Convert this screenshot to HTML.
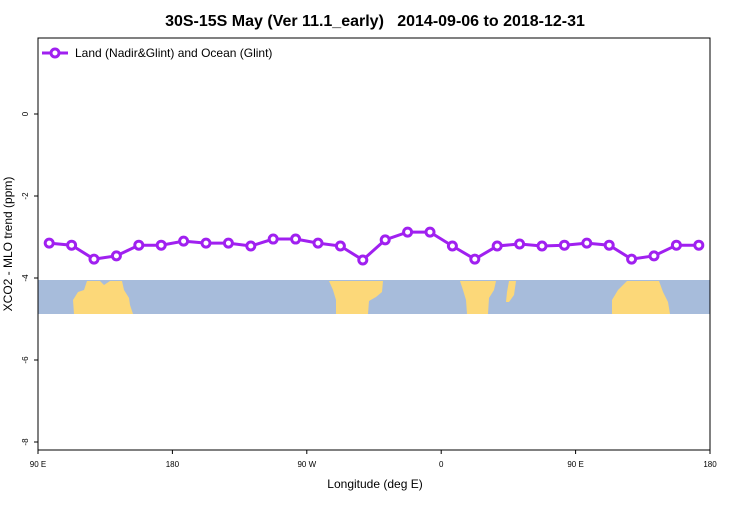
<!DOCTYPE html>
<html><head><meta charset="utf-8"><style>
body{margin:0;background:#fff;font-family:"Liberation Sans",sans-serif}
</style></head><body>
<svg id="c" width="750" height="500" xmlns="http://www.w3.org/2000/svg">
<text x="375" y="26" text-anchor="middle" font-size="16" font-weight="bold" style="white-space:pre">30S-15S May (Ver 11.1_early)   2014-09-06 to 2018-12-31</text>
<g id="map">
<rect x="38" y="280" width="672" height="34" fill="#a7bcdb"/>
<polygon fill="#fcd879" points="87,281 100,281 104,285 110,281 122,281 124,290 129,298 130,305 133,314 74,314 73,300 78,292 84,290"/>
<polygon fill="#fcd879" points="329,281 383,281 382,292 376,297 369,301 368,314 336,314 336,300 333,290"/>
<polygon fill="#fcd879" points="460,281 496,281 494,290 489,298 488,314 467,314 466,300 463,290"/>
<polygon fill="#fcd879" points="509,281 516,281 514,295 509,302 506,302 507,292"/>
<polygon fill="#fcd879" points="627,281 659,281 663,292 668,302 670,314 612,314 612,300 618,290"/>
</g>
<rect x="38" y="38" width="672" height="412" fill="none" stroke="#000"/>
<g id="axes" font-size="8"></g>
<text x="375" y="488" text-anchor="middle" font-size="12">Longitude (deg E)</text>
<text transform="translate(12,244) rotate(-90)" text-anchor="middle" font-size="12">XCO2 - MLO trend (ppm)</text>
<g>
<line x1="42" y1="53" x2="68" y2="53" stroke="#a020f0" stroke-width="3"/>
<circle cx="55" cy="53" r="4" fill="#fff" stroke="#a020f0" stroke-width="3"/>
<text x="75" y="57" font-size="12">Land (Nadir&amp;Glint) and Ocean (Glint)</text>
</g>
<g id="series"></g>
</svg>
<script>
const lons=[96,108,120,132,144,156,168,180,192,204,216,228,240,252,264,276,288,300,312,324,336,348,360,372,384,396,408,420,432,444];
const values=[-3.15,-3.2,-3.54,-3.46,-3.2,-3.2,-3.1,-3.15,-3.15,-3.22,-3.05,-3.05,-3.15,-3.22,-3.56,-3.07,-2.88,-2.88,-3.22,-3.54,-3.22,-3.17,-3.22,-3.2,-3.15,-3.2,-3.54,-3.46,-3.2,-3.2];
const xLabels=["90 E","180","90 W","0","90 E","180"];
const yTicks=[0,-2,-4,-6,-8];
const NS="http://www.w3.org/2000/svg";
const X=l=>38+(l-90)*672/360;
const Y=v=>114-v*41;
const ax=document.getElementById('axes');
function mk(t,a,p){const e=document.createElementNS(NS,t);for(const k in a)e.setAttribute(k,a[k]);p.appendChild(e);return e;}
xLabels.forEach((lab,i)=>{
 const x=38+i*672/(xLabels.length-1);
 const t=mk('line',{x1:x,y1:450,x2:x,y2:454,stroke:'#000'},ax);
 
 
 const tx=mk('text',{x:x,y:467,'text-anchor':'middle'},ax);tx.textContent=lab;
 
 
});
yTicks.forEach(v=>{
 const y=Y(v);
 const t=mk('line',{x1:34,y1:y,x2:38,y2:y,stroke:'#000'},ax);
 
 
 const tx=mk('text',{transform:`translate(28,${y}) rotate(-90)`,'text-anchor':'middle'},ax);tx.textContent=String(v);
 
 
});
const s=document.getElementById('series');
const pl=mk('polyline',{points:lons.map((l,i)=>X(l)+','+Y(values[i])).join(' '),fill:'none',stroke:'#a020f0','stroke-width':3},s);


lons.forEach((l,i)=>{
 const c=mk('circle',{cx:X(l),cy:Y(values[i]),r:4,fill:'#fff',stroke:'#a020f0','stroke-width':3},s);
 
 
});
</script>
</body></html>
